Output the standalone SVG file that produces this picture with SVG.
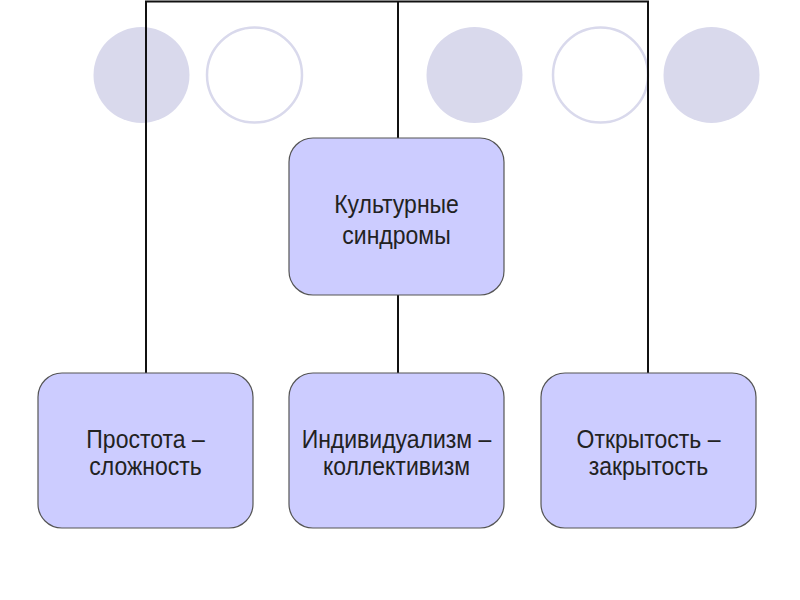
<svg xmlns="http://www.w3.org/2000/svg" width="800" height="600" viewBox="0 0 800 600">
<style>
.dot{fill:#d9d9ec}
.ring{fill:none;stroke:#d9d9ec;stroke-width:2.5}
.box{fill:#ccccff;stroke:#555;stroke-width:1.2}
.lbl{font-family:"Liberation Sans",Arial,sans-serif;font-size:23px;fill:#222;text-anchor:middle}
.con{stroke:#111;stroke-width:2;fill:none}
</style>
<rect width="800" height="600" fill="#fff"/>
<g id="decor">
<circle class="dot" cx="141.5" cy="75" r="48"/>
<circle class="ring" cx="254.5" cy="75" r="47.5"/>
<circle class="dot" cx="474.5" cy="75" r="48"/>
<circle class="ring" cx="600.5" cy="75" r="47.5"/>
<circle class="dot" cx="711.5" cy="75" r="48"/>
</g>
<g id="connectors">
<path class="con" d="M146,373 V1.5 H648 V373"/>
<path class="con" d="M398,1.5 V138"/>
<path class="con" d="M398,295 V373"/>
</g>
<g id="root">
<rect class="box" x="289" y="138" width="215" height="157" rx="24"/>
<text class="lbl" transform="translate(396.5,213) scale(1,1.1)">Культурные</text>
<text class="lbl" transform="translate(396.5,244) scale(1,1.1)">синдромы</text>
</g>
<g id="n1">
<rect class="box" x="38" y="373" width="215" height="155" rx="24"/>
<text class="lbl" transform="translate(145.5,448) scale(1,1.1)">Простота –</text>
<text class="lbl" transform="translate(145.5,475) scale(1,1.1)">сложность</text>
</g>
<g id="n2">
<rect class="box" x="289" y="373" width="215" height="155" rx="24"/>
<text class="lbl" transform="translate(396.5,448) scale(1,1.1)">Индивидуализм –</text>
<text class="lbl" transform="translate(396.5,475) scale(1,1.1)">коллективизм</text>
</g>
<g id="n3">
<rect class="box" x="541" y="373" width="215" height="155" rx="24"/>
<text class="lbl" transform="translate(648.5,448) scale(1,1.1)">Открытость –</text>
<text class="lbl" transform="translate(648.5,475) scale(1,1.1)">закрытость</text>
</g>
</svg>
